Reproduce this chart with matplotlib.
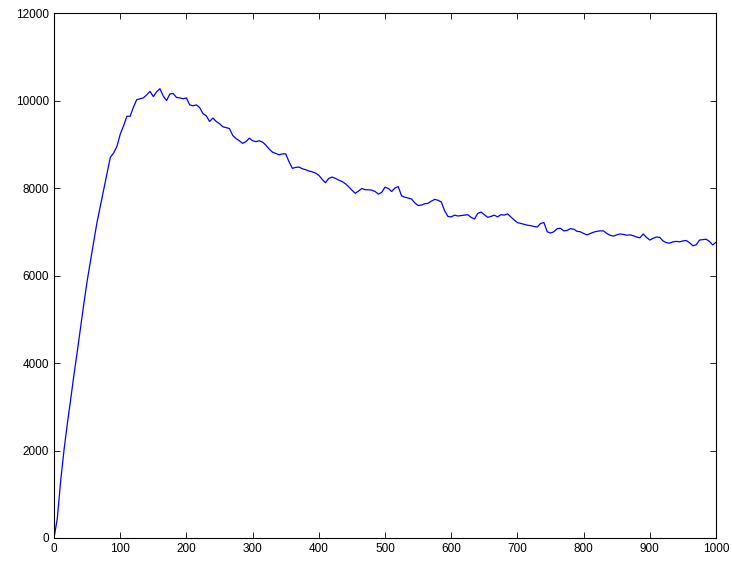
import matplotlib
matplotlib.use('Agg')
import matplotlib.pyplot as plt

# valores (cada 5 unidades en x)
x_vals = list(range(0, 1001, 5))
y_vals = [
    0, 450, 1300, 2000, 2600, 3150, 3720, 4250, 4800, 5350,
    5870, 6330, 6780, 7220, 7590, 7970, 8330, 8700, 8800, 8950,
    9230, 9420, 9640, 9640, 9850, 10020, 10040, 10060, 10130, 10210,
    10090, 10200, 10270, 10100, 10000, 10150, 10160, 10070, 10060, 10040,
    10060, 9900, 9880, 9900, 9840, 9700, 9650, 9520, 9600, 9520,
    9470, 9400, 9380, 9360, 9200, 9130, 9080, 9020, 9060, 9140,
    9080, 9060, 9080, 9050, 8980, 8890, 8820, 8790, 8760, 8780,
    8780, 8600, 8450, 8470, 8480, 8440, 8420, 8390, 8370, 8340,
    8290, 8200, 8120, 8220, 8250, 8220, 8180, 8150, 8100, 8030,
    7950, 7880, 7930, 7990, 7960, 7960, 7950, 7920, 7860, 7900,
    8020, 7990, 7920, 8000, 8030, 7820, 7790, 7770, 7750, 7660,
    7600, 7610, 7640, 7650, 7700, 7740, 7720, 7680, 7480, 7350,
    7340, 7380, 7360, 7370, 7380, 7390, 7330, 7290, 7420, 7450,
    7390, 7330, 7350, 7380, 7340, 7390, 7380, 7410, 7340, 7270,
    7210, 7190, 7170, 7150, 7140, 7120, 7110, 7190, 7210, 7000,
    6970, 7000, 7070, 7080, 7020, 7030, 7070, 7060, 7010, 7000,
    6960, 6930, 6960, 6990, 7010, 7020, 7020, 6960, 6920, 6900,
    6930, 6950, 6940, 6920, 6930, 6910, 6880, 6860, 6950, 6870,
    6810, 6850, 6880, 6870, 6790, 6750, 6740, 6770, 6780, 6770,
    6790, 6800, 6750, 6680, 6700, 6810, 6820, 6830, 6780, 6700,
    6760,
]

x_ticks = [0, 100, 200, 300, 400, 500, 600, 700, 800, 900, 1000]
y_ticks = [0, 2000, 4000, 6000, 8000, 10000, 12000]

plt.rcParams['font.family'] = ['Liberation Sans', 'DejaVu Sans']

fig = plt.figure(figsize=(7.32, 5.61), dpi=100)
ax = fig.add_axes([0.0738, 0.041, 0.9044, 0.9358])

ax.plot(x_vals, y_vals, color='#0000ff', linewidth=0.9)

ax.set_xlim(0, 1000)
ax.set_ylim(0, 12000)
ax.set_xticks(x_ticks)
ax.set_yticks(y_ticks)
ax.tick_params(direction='in', top=True, right=True, length=4,
               labelsize=8.5, width=0.6)
for s in ax.spines.values():
    s.set_linewidth(0.8)

fig.savefig('out.png', dpi=100)
plt.close(fig)
